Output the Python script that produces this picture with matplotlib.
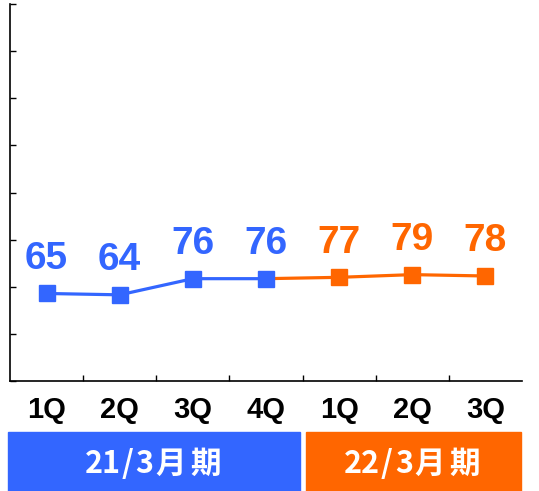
import matplotlib
matplotlib.use('Agg')
import matplotlib.pyplot as plt
from matplotlib.patches import Rectangle

# data
quarters = ['1Q', '2Q', '3Q', '4Q', '1Q', '2Q', '3Q']
values = [65, 64, 76, 76, 77, 79, 78]
periods = ['21/3月期', '22/3月期']
n_prev = 4  # 21/3月期 の四半期数

BLUE = '#3366FF'
ORANGE = '#FF6600'
NUM_FONT = 'Liberation Sans'

W, H = 539, 491
fig = plt.figure(figsize=(W / 100, H / 100), dpi=100)
ax = fig.add_axes([10 / W, (H - 381) / H, 512 / W, 377 / H])

x = list(range(len(values)))

# 22/3月期の線は4Qの点からつなぐ
ax.plot(x[n_prev - 1:], values[n_prev - 1:], color=ORANGE, lw=2.3, zorder=2)
ax.plot(x[n_prev:], values[n_prev:], color=ORANGE, lw=0, marker='s',
        markersize=11.5, zorder=3)
ax.plot(x[:n_prev], values[:n_prev], color=BLUE, lw=2.3, marker='s',
        markersize=11.5, zorder=4)

for i, v in enumerate(values):
    c = BLUE if i < n_prev else ORANGE
    ax.annotate(str(v), (i, v), xytext=(0, 25), textcoords='offset points',
                ha='center', va='center', color=c, fontsize=28,
                fontweight='bold', family=NUM_FONT)

ax.set_xlim(-0.5, len(values) - 0.5)
ax.set_ylim(0, 280)
ax.set_yticks(range(0, 281, 35))
ax.set_yticklabels([])
ax.set_xticks(x)
ax.set_xticklabels(quarters, fontsize=21, fontweight='bold', family=NUM_FONT)
ax.set_xticks([i + 0.5 for i in range(len(values) - 1)], minor=True)
ax.tick_params(axis='x', which='major', length=0, pad=11)
ax.tick_params(axis='x', which='minor', direction='in', length=4, width=1)
ax.tick_params(axis='y', direction='in', length=4, width=1)
for s in ['top', 'right']:
    ax.spines[s].set_visible(False)
for s in ['left', 'bottom']:
    ax.spines[s].set_linewidth(1.2)

# 期間の帯 (文字は等幅風に1文字ずつ置く)
bands = [(8, 300, BLUE, periods[0]), (306, 521, ORANGE, periods[1])]
for x0, x1, col, txt in bands:
    fig.patches.append(Rectangle((x0 / W, 0), (x1 - x0) / W, (H - 432) / H,
                                 transform=fig.transFigure, color=col))
    adv = [35 if ord(ch) > 0x2000 else 17 for ch in txt]
    pos = (x0 + x1) / 2 - sum(adv) / 2
    for ch, a in zip(txt, adv):
        fig.text((pos + a / 2) / W, (H - 464) / H, ch, ha='center', va='center',
                 color='white', fontsize=22, fontweight='bold',
                 family=['Noto Sans CJK JP', 'DejaVu Sans'])
        pos += a

fig.savefig('out.png', dpi=100)
